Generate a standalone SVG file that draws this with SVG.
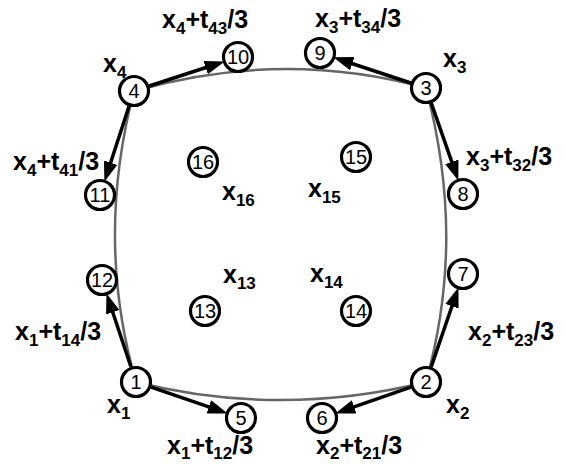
<svg xmlns="http://www.w3.org/2000/svg" width="566" height="466" viewBox="0 0 566 466">
<style>
.curve{fill:none;stroke:#666;stroke-width:2.5}
.arr{stroke:#000;stroke-width:3.5;fill:none}
.nd circle{fill:#fff;stroke:#000;stroke-width:3.2}
.nd text{font-family:"Liberation Sans",Arial,sans-serif;font-size:20px;text-anchor:middle;fill:#000}
.lbl{font-family:"Liberation Sans",Arial,sans-serif;font-size:25px;font-weight:bold;fill:#000}
.sub{font-size:17px}
</style>
<defs>
<marker id="ah" markerUnits="userSpaceOnUse" markerWidth="22" markerHeight="16" refX="10" refY="7" orient="auto">
<path d="M0,0 L20,7 L0,14 Z" fill="#000"/>
</marker>
</defs>
<rect width="566" height="466" fill="#fff"/>
<g id="curves">
<path class="curve" d="M134,91 C232,63 328,61 426,88"/>
<path class="curve" d="M426,88 C453,190 453,285 426,382"/>
<path class="curve" d="M136,382 C230,406 330,406 426,382"/>
<path class="curve" d="M134,91 C108,190 108,285 136,382"/>
</g>
<g id="connectors">
<line class="arr" x1="149.2" y1="86" x2="215.2" y2="64.5" marker-end="url(#ah)"/>
<line class="arr" x1="410.8" y1="83" x2="342.8" y2="60.5" marker-end="url(#ah)"/>
<line class="arr" x1="129" y1="106.2" x2="107.5" y2="172.2" marker-end="url(#ah)"/>
<line class="arr" x1="431.3" y1="103.1" x2="455.1" y2="171.3" marker-end="url(#ah)"/>
<line class="arr" x1="130.9" y1="366.8" x2="109.6" y2="302.8" marker-end="url(#ah)"/>
<line class="arr" x1="151.1" y1="387.2" x2="218.3" y2="410.2" marker-end="url(#ah)"/>
<line class="arr" x1="410.9" y1="387.2" x2="344.7" y2="410.2" marker-end="url(#ah)"/>
<line class="arr" x1="431.2" y1="366.9" x2="455.2" y2="296.7" marker-end="url(#ah)"/>
</g>
<g id="n1" class="nd"><circle cx="136" cy="382" r="14.5"/><text x="136" y="389">1</text></g>
<g id="n2" class="nd"><circle cx="426" cy="382" r="14.5"/><text x="426" y="389">2</text></g>
<g id="n3" class="nd"><circle cx="426" cy="88" r="14.5"/><text x="426" y="95">3</text></g>
<g id="n4" class="nd"><circle cx="134" cy="91" r="14.5"/><text x="134" y="98">4</text></g>
<g id="n5" class="nd"><circle cx="241" cy="418" r="14.5"/><text x="241" y="425">5</text></g>
<g id="n6" class="nd"><circle cx="322" cy="418" r="14.5"/><text x="322" y="425">6</text></g>
<g id="n7" class="nd"><circle cx="463" cy="274" r="14.5"/><text x="463" y="281">7</text></g>
<g id="n8" class="nd"><circle cx="463" cy="194" r="14.5"/><text x="463" y="201">8</text></g>
<g id="n9" class="nd"><circle cx="320" cy="53" r="14.5"/><text x="320" y="60">9</text></g>
<g id="n10" class="nd"><circle cx="238" cy="57" r="14.5"/><text x="238" y="64">10</text></g>
<g id="n11" class="nd"><circle cx="100" cy="195" r="14.5"/><text x="100" y="202">11</text></g>
<g id="n12" class="nd"><circle cx="102" cy="280" r="14.5"/><text x="102" y="287">12</text></g>
<g id="n13" class="nd"><circle cx="205" cy="311" r="14.5"/><text x="205" y="318">13</text></g>
<g id="n14" class="nd"><circle cx="356" cy="311" r="14.5"/><text x="356" y="318">14</text></g>
<g id="n15" class="nd"><circle cx="356" cy="157" r="14.5"/><text x="356" y="164">15</text></g>
<g id="n16" class="nd"><circle cx="203" cy="162" r="14.5"/><text x="203" y="169">16</text></g>
<g id="labels">
<text class="lbl" x="162" y="28">x<tspan class="sub" dy="6">4</tspan><tspan dy="-6">+t</tspan><tspan class="sub" dy="6">43</tspan><tspan dy="-6">/3</tspan></text>
<text class="lbl" x="315" y="27">x<tspan class="sub" dy="6">3</tspan><tspan dy="-6">+t</tspan><tspan class="sub" dy="6">34</tspan><tspan dy="-6">/3</tspan></text>
<text class="lbl" x="103" y="72">x<tspan class="sub" dy="6">4</tspan></text>
<text class="lbl" x="443" y="67">x<tspan class="sub" dy="6">3</tspan></text>
<text class="lbl" x="13" y="170">x<tspan class="sub" dy="6">4</tspan><tspan dy="-6">+t</tspan><tspan class="sub" dy="6">41</tspan><tspan dy="-6">/3</tspan></text>
<text class="lbl" x="466" y="165">x<tspan class="sub" dy="6">3</tspan><tspan dy="-6">+t</tspan><tspan class="sub" dy="6">32</tspan><tspan dy="-6">/3</tspan></text>
<text class="lbl" x="222" y="200">x<tspan class="sub" dy="6">16</tspan></text>
<text class="lbl" x="308" y="197">x<tspan class="sub" dy="6">15</tspan></text>
<text class="lbl" x="223" y="283">x<tspan class="sub" dy="6">13</tspan></text>
<text class="lbl" x="310" y="282">x<tspan class="sub" dy="6">14</tspan></text>
<text class="lbl" x="15" y="340">x<tspan class="sub" dy="6">1</tspan><tspan dy="-6">+t</tspan><tspan class="sub" dy="6">14</tspan><tspan dy="-6">/3</tspan></text>
<text class="lbl" x="468" y="340">x<tspan class="sub" dy="6">2</tspan><tspan dy="-6">+t</tspan><tspan class="sub" dy="6">23</tspan><tspan dy="-6">/3</tspan></text>
<text class="lbl" x="107" y="413">x<tspan class="sub" dy="6">1</tspan></text>
<text class="lbl" x="446" y="413">x<tspan class="sub" dy="6">2</tspan></text>
<text class="lbl" x="167" y="454">x<tspan class="sub" dy="5">1</tspan><tspan dy="-5">+t</tspan><tspan class="sub" dy="5">12</tspan><tspan dy="-5">/3</tspan></text>
<text class="lbl" x="316" y="454">x<tspan class="sub" dy="5">2</tspan><tspan dy="-5">+t</tspan><tspan class="sub" dy="5">21</tspan><tspan dy="-5">/3</tspan></text>
</g>
</svg>
